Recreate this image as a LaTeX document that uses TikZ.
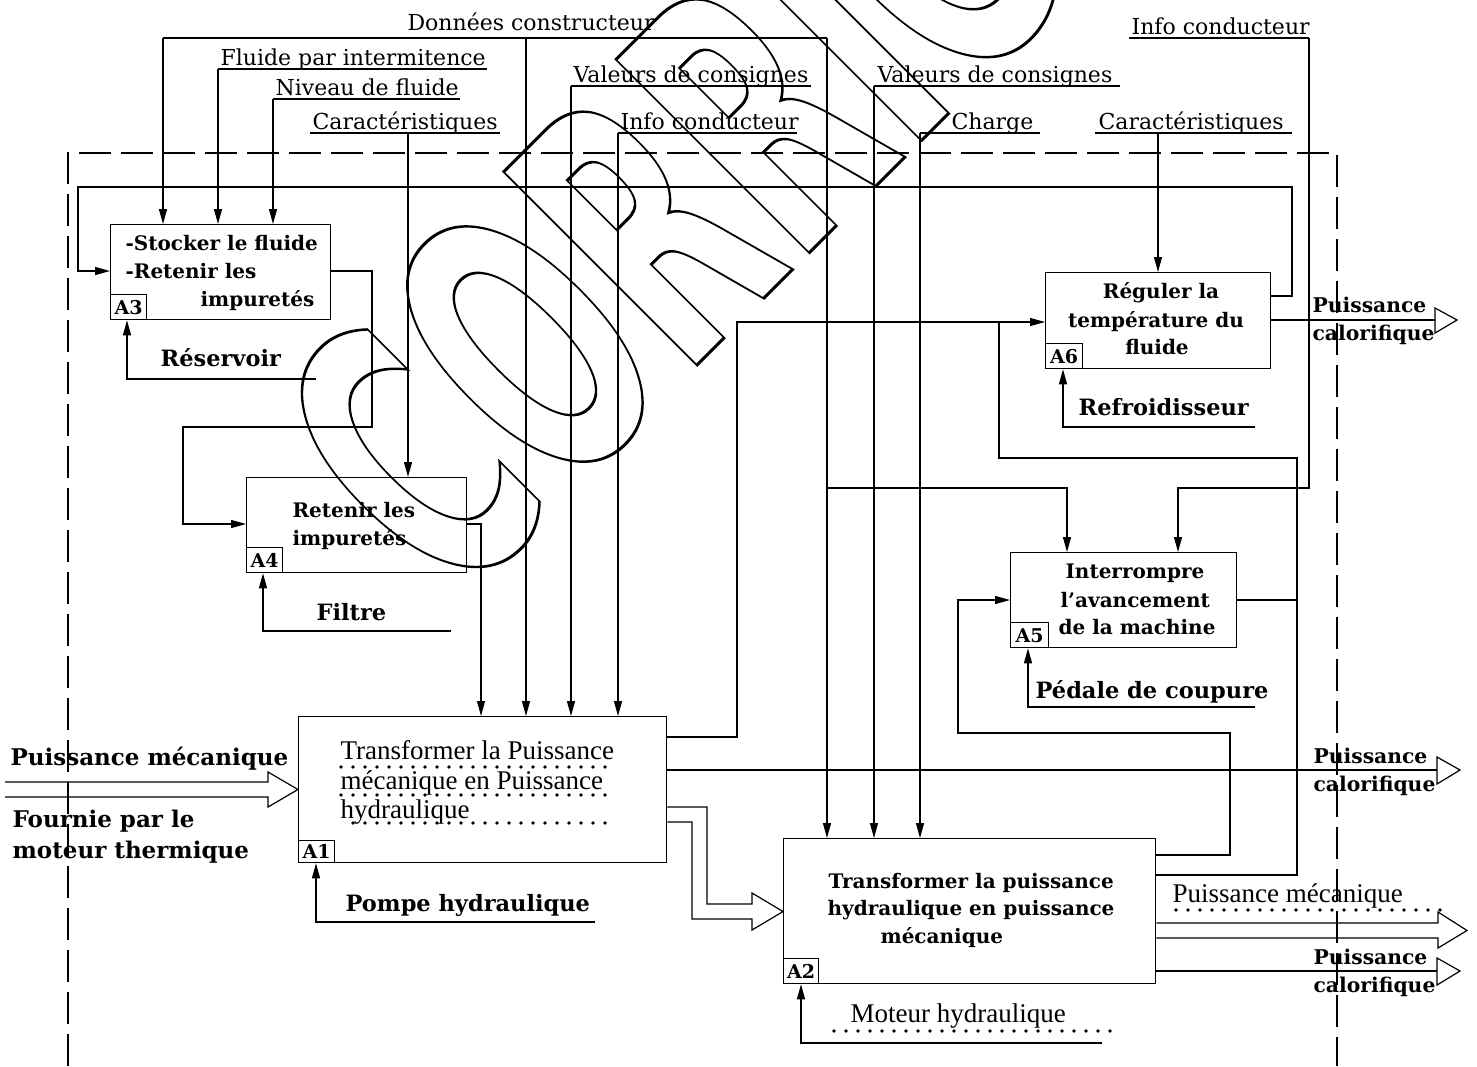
\documentclass[tikz,border=0pt]{standalone}
\usepackage{fontspec}
\setmainfont{DejaVu Serif}
\newfontfamily\tmsfont{Liberation Serif}
\newfontfamily\wmfont{DejaVu Sans}
\usetikzlibrary{arrows.meta}
\newcommand\toplbl{\fontsize{22}{26}\selectfont}
\newcommand\mechlbl{\fontsize{22.5}{26}\selectfont\bfseries}
\newcommand\sidelbl{\fontsize{23}{27}\selectfont\bfseries}
\newcommand\boxlbl{\fontsize{20}{24}\selectfont\bfseries}
\newcommand\outlbl{\fontsize{20.3}{24}\selectfont\bfseries}
\newcommand\tmslbl{\tmsfont\fontsize{27}{31}\selectfont}
\newcommand\taglbl{\fontsize{19}{22}\selectfont\bfseries}
\tikzset{
  arr/.style={-{Triangle[length=15pt,width=8pt]}},
  box/.style={draw,line width=1.3pt,anchor=north west,inner sep=0pt},
  tag/.style={draw,line width=1.2pt,anchor=south west,inner sep=0pt,minimum width=36pt,minimum height=25pt,font=\taglbl},
  txt/.style={inner sep=0pt,anchor=base west},
  ctx/.style={inner sep=0pt,anchor=base},
  frame/.style={dash pattern=on 32pt off 10pt,line width=1.3pt},
  dots/.style={line width=3.8pt,line cap=round,dash pattern=on 0pt off 12pt},
  oarr/.style={line width=1.2pt,line join=miter}
}
\begin{document}
\begin{tikzpicture}[x=1pt,y=-1pt,line width=1.2pt]
\fill[white] (0,0) rectangle (1477,1066);
\useasboundingbox (0,0) rectangle (1477,1066);
% watermark
\begin{scope}
\clip (0,0) rectangle (1477,1066);
\node[rotate=45,anchor=base west,inner sep=0pt] (wm) at (452,610)
  {\wmfont\bfseries\fontsize{375}{375}\selectfont\scalebox{0.55}[1]{\special{pdf:literal direct 1 Tr 3 w}CORRIGÉ\special{pdf:literal direct 0 Tr}}};
\end{scope}
% frame
\draw[frame] (68,1066) -- (68,153) -- (1337,153) -- (1337,1066);
% boxes
\node[box,minimum width=220pt,minimum height=95pt] (A3) at (110,224) {};
\node[box,minimum width=220pt,minimum height=95pt] (A4) at (246,477) {};
\node[box,minimum width=368pt,minimum height=146pt] (A1) at (298,716) {};
\node[box,minimum width=372pt,minimum height=145pt] (A2) at (783,838) {};
\node[box,minimum width=226pt,minimum height=95pt] (A5) at (1010,552) {};
\node[box,minimum width=225pt,minimum height=96pt] (A6) at (1045,272) {};
\node[tag] (A3t) at (A3.south west) {A3};
\node[tag] (A4t) at (A4.south west) {A4};
\node[tag,minimum height=22pt] (A1t) at (A1.south west) {A1};
\node[tag,minimum width=35pt] (A2t) at (A2.south west) {A2};
\node[tag,minimum width=38pt] (A5t) at (A5.south west) {A5};
\node[tag,minimum width=37pt] (A6t) at (A6.south west) {A6};
% box texts
\node[txt,font=\boxlbl] (a3a) at (125,250) {-Stocker le fluide};
\node[txt,font=\boxlbl] (a3b) at (125,278) {-Retenir les};
\node[txt,font=\boxlbl] (a3c) at (200,306) {impuretés};
\node[txt,font=\boxlbl] (a4a) at (292,517) {Retenir les};
\node[txt,font=\boxlbl] (a4b) at (292,545) {impuretés};
\node[ctx,font=\boxlbl] (a6a) at (1161,298) {Réguler la};
\node[ctx,font=\boxlbl] (a6b) at (1156,327) {température du};
\node[ctx,font=\boxlbl] (a6c) at (1157,354) {fluide};
\node[txt,font=\boxlbl] (a5a) at (1065,578) {Interrompre};
\node[txt,font=\boxlbl] (a5b) at (1060,607) {l'avancement};
\node[txt,font=\boxlbl] (a5c) at (1058,634) {de la machine};
\node[txt,font=\boxlbl] (a2a) at (828,888) {Transformer la puissance};
\node[txt,font=\boxlbl] (a2b) at (827,915) {hydraulique en puissance};
\node[txt,font=\boxlbl] (a2c) at (880,943) {mécanique};
\node[txt,font=\tmslbl] (a1a) at (340,759) {Transformer la Puissance};
\node[txt,font=\tmslbl] (a1b) at (340,789) {mécanique en Puissance};
\node[txt,font=\tmslbl] (a1c) at (340,818) {hydraulique};
\draw[dots] (341,767) -- (608,767);
\draw[dots] (341,795) -- (608,795);
\draw[dots] (353,823) -- (608,823);
% top labels
\node[txt,font=\toplbl] (lDC) at (407,30) {Données constructeur};
\node[txt,font=\toplbl] (lFI) at (220,65) {Fluide par intermitence};
\node[txt,font=\toplbl] (lNF) at (275,95) {Niveau de fluide};
\node[txt,font=\toplbl] (lC1) at (312,129) {Caractéristiques};
\node[txt,font=\toplbl] (lV1) at (573,82) {Valeurs de consignes};
\node[txt,font=\toplbl] (lI1) at (620,129) {Info conducteur};
\node[txt,font=\toplbl] (lV2) at (877,82) {Valeurs de consignes};
\node[txt,font=\toplbl] (lCH) at (951,129) {Charge};
\node[txt,font=\toplbl] (lC2) at (1098,129) {Caractéristiques};
\node[txt,font=\toplbl] (lI2) at (1131,34) {Info conducteur};
% mechanism labels
\node[txt,font=\mechlbl] (mRes) at (160,366) {Réservoir};
\node[txt,font=\mechlbl] (mFil) at (316,620) {Filtre};
\node[txt,font=\mechlbl] (mPom) at (345,911) {Pompe hydraulique};
\node[txt,font=\mechlbl] (mRef) at (1078,415) {Refroidisseur};
\node[txt,font=\mechlbl] (mPed) at (1035,698) {Pédale de coupure};
\node[txt,font=\tmslbl] (mMot) at (850,1022) {Moteur hydraulique};
\draw[dots] (834,1031) -- (1113,1031);
% side labels
\node[txt,font=\sidelbl] (inA) at (10,765) {Puissance mécanique};
\node[txt,font=\sidelbl] (inB) at (12,827) {Fournie par le};
\node[txt,font=\sidelbl] (inC) at (12,858) {moteur thermique};
\node[txt,font=\outlbl] (o1a) at (1312,312) {Puissance};
\node[txt,font=\outlbl] (o1b) at (1312,340) {calorifique};
\node[txt,font=\outlbl] (o2a) at (1313,763) {Puissance};
\node[txt,font=\outlbl] (o2b) at (1313,791) {calorifique};
\node[txt,font=\outlbl] (o3a) at (1313,964) {Puissance};
\node[txt,font=\outlbl] (o3b) at (1313,992) {calorifique};
\node[txt,font=\tmslbl] (o4) at (1172,902) {Puissance mécanique};
\draw[dots] (1176,910) -- (1440,910);
% controls from top
\coordinate (dc1) at (163,38); \coordinate (dc2) at (827,38);
\draw (dc1) -- (dc2);
\draw[arr] (dc1) -- (A3.north -| dc1);
\draw[arr] (526,38) -- (A1.north -| 526,0);
\draw[arr] (dc2) -- (A2.north -| dc2);
\draw[arr] (827,488) -| (A5.north -| 1067,0);
\draw (218,69) -- (487,69); \draw[arr] (218,69) -- (A3.north -| 218,0);
\draw (273,99) -- (460,99); \draw[arr] (273,99) -- (A3.north -| 273,0);
\draw (310,133) -- (500,133); \draw[arr] (408,133) -- (A4.north -| 408,0);
\draw (571,86) -- (811,86); \draw[arr] (571,86) -- (A1.north -| 571,0);
\draw (618,133) -- (797,133); \draw[arr] (618,133) -- (A1.north -| 618,0);
\draw (874,86) -- (1120,86); \draw[arr] (874,86) -- (A2.north -| 874,0);
\draw (920,133) -- (1040,133); \draw[arr] (920,133) -- (A2.north -| 920,0);
\draw (1095,133) -- (1292,133); \draw[arr] (1158,133) -- (A6.north -| 1158,0);
\draw (1129,38) -- (1309,38); \draw[arr] (1309,38) -- (1309,488) -| (A5.north -| 1178,0);
% flows
\draw[arr] (A6.east |- 0,296) -- (1292,296) -- (1292,187) -- (78,187) -- (78,271) -- (A3.west |- 0,271);
\draw[arr] (A3.east |- 0,271) -- (372,271) -- (372,427) -- (183,427) -- (183,524) -- (A4.west |- 0,524);
\draw[arr] (A4.east |- 0,524) -- (481,524) -- (A1.north -| 481,0);
\draw[arr] (A1.east |- 0,737) -- (737,737) -- (737,322) -- (A6.west |- 0,322);
\draw (A2.east |- 0,875) -- (1297,875) -- (1297,458) -- (999,458) -- (999,322);
\draw (A5.east |- 0,600) -- (1297,600);
\draw[arr] (A2.east |- 0,855) -- (1230,855) -- (1230,733) -- (958,733) -- (958,600) -- (A5.west |- 0,600);
% mechanisms
\draw[arr] (316,379) -- (127,379) -- (A3.south -| 127,0);
\draw[arr] (451,631) -- (263,631) -- (A4.south -| 263,0);
\draw[arr] (595,922) -- (316,922) -- (A1.south -| 316,0);
\draw[arr] (1102,1043) -- (801,1043) -- (A2.south -| 801,0);
\draw[arr] (1255,707) -- (1028,707) -- (A5.south -| 1028,0);
\draw[arr] (1255,427) -- (1063,427) -- (A6.south -| 1063,0);
% outputs
\draw (A6.east |- 0,320) -- (1435,320);
\draw[oarr] (1435,308) -- (1457,320) -- (1435,333) -- cycle;
\draw (A1.east |- 0,770) -- (1437,770);
\draw[oarr] (1437,757) -- (1460,770) -- (1437,784) -- cycle;
\draw (A2.east |- 0,971) -- (1437,971);
\draw[oarr] (1437,958) -- (1460,971) -- (1437,985) -- cycle;
\draw[oarr] (A2.east |- 0,923) -- (1438,923) -- (1438,912) -- (1467,930.5) -- (1438,948) -- (1438,938) -- (A2.east |- 0,938);
% thick input arrow
\draw[oarr] (5,782) -- (268,782) -- (268,772) -- (A1.west |- 0,789.5) -- (268,807) -- (268,797) -- (5,797);
% thick A1 -> A2
\draw[oarr] (A1.east |- 0,807) -- (707,807) -- (707,904) -- (752,904) -- (752,893) -- (A2.west |- 0,911.5) -- (752,930) -- (752,919) -- (692,919) -- (692,822) -- (A1.east |- 0,822);
\end{tikzpicture}
\end{document}
